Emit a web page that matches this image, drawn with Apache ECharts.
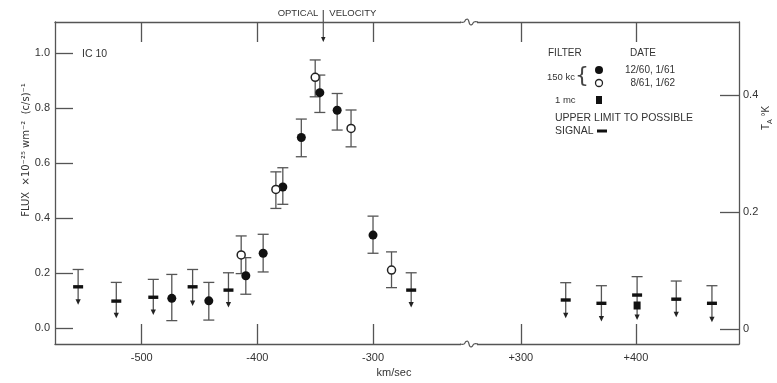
<!DOCTYPE html>
<html><head><meta charset="utf-8">
<script src="https://cdn.jsdelivr.net/npm/echarts@6/dist/echarts.min.js"></script>
<style>html,body{margin:0;padding:0;background:#fff}#c{width:777px;height:383px}</style>
</head><body><div id="c"></div>
<script>
// ---- data ----
// velocity ticks (km/sec)
const leftTicks = [-500, -400, -300];
const rightTicks = [300, 400];
const fluxTicks = [0, 0.2, 0.4, 0.6, 0.8, 1.0];
const tempTicks = [0, 0.2, 0.4];
// 150 kc, 12/60, 1/61 (filled): [velocity, flux, low, high]
const filled = [
  [-474, 0.108, 0.027, 0.195],
  [-442, 0.099, 0.029, 0.166],
  [-410, 0.190, 0.123, 0.256],
  [-395, 0.272, 0.204, 0.341],
  [-378, 0.513, 0.450, 0.583],
  [-362, 0.693, 0.623, 0.760],
  [-346, 0.856, 0.784, 0.920],
  [-331, 0.792, 0.720, 0.853],
  [-300, 0.338, 0.272, 0.407]
];
// 150 kc, 8/61, 1/62 (open): [velocity, flux, low, high]
const openPts = [
  [-414, 0.266, 0.198, 0.335],
  [-384, 0.504, 0.435, 0.568],
  [-350, 0.912, 0.841, 0.975],
  [-319, 0.726, 0.659, 0.793],
  [-284, 0.211, 0.147, 0.277]
];
// 1 mc (square): [velocity, flux]
const oneMc = [[401, 0.082]];
// upper limits to possible signal: [velocity, limit, errTop, arrowBottom]
const upperLimits = [
  [-555, 0.150, 0.213, 0.090],
  [-522, 0.098, 0.166, 0.041],
  [-490, 0.112, 0.177, 0.053],
  [-456, 0.150, 0.213, 0.086],
  [-425, 0.138, 0.201, 0.080],
  [-267, 0.138, 0.201, 0.080],
  [339, 0.102, 0.165, 0.041],
  [370, 0.090, 0.154, 0.029],
  [401, 0.120, 0.187, 0.035],
  [435, 0.105, 0.171, 0.045],
  [466, 0.090, 0.154, 0.027]
];
const opticalVelocity = [-343];

// ---- chart ----
const AX = '#555', TX = '#333', FONT = 'Liberation Sans';
const chart = echarts.init(document.getElementById('c'));
const Y_MIN = -0.058, Y_MAX = 1.113;

function errBar(params, api) {
  const x = api.value(0), lo = api.value(2), hi = api.value(3);
  const a = api.coord([x, hi]), b = api.coord([x, lo]);
  const hw = 5.5, st = {stroke: AX, lineWidth: 1.3};
  return {type: 'group', children: [
    {type: 'line', shape: {x1: a[0], y1: a[1], x2: b[0], y2: b[1]}, style: st},
    {type: 'line', shape: {x1: a[0] - hw, y1: a[1], x2: a[0] + hw, y2: a[1]}, style: st},
    {type: 'line', shape: {x1: b[0] - hw, y1: b[1], x2: b[0] + hw, y2: b[1]}, style: st}
  ]};
}
function upperRender(params, api) {
  const x = api.value(0);
  const pv = api.coord([x, api.value(1)]), pt = api.coord([x, api.value(2)]), pb = api.coord([x, api.value(3)]);
  const hw = 5.5, st = {stroke: AX, lineWidth: 1.3};
  return {type: 'group', children: [
    {type: 'line', shape: {x1: pt[0], y1: pt[1], x2: pb[0], y2: pb[1] - 2}, style: st},
    {type: 'line', shape: {x1: pt[0] - hw, y1: pt[1], x2: pt[0] + hw, y2: pt[1]}, style: st},
    {type: 'rect', shape: {x: pv[0] - 5, y: pv[1] - 1.7, width: 10, height: 3.4}, style: {fill: '#111'}},
    {type: 'polygon', shape: {points: [[pb[0] - 2.6, pb[1] - 4], [pb[0] + 2.6, pb[1] - 4], [pb[0], pb[1] + 1.5]]}, style: {fill: '#222'}}
  ]};
}
function opticalRender(params, api) {
  const x = api.value(0);
  const p = api.coord([x, Y_MAX]);
  return {type: 'group', children: [
    {type: 'line', shape: {x1: p[0], y1: p[1] - 12, x2: p[0], y2: p[1] + 16}, style: {stroke: AX, lineWidth: 1.2}},
    {type: 'polygon', shape: {points: [[p[0] - 2.2, p[1] + 15], [p[0] + 2.2, p[1] + 15], [p[0], p[1] + 20]]}, style: {fill: '#222'}},
    {type: 'text', style: {x: p[0] - 5, y: p[1] - 9, text: 'OPTICAL', align: 'right', verticalAlign: 'middle', fill: TX, font: '9.5px ' + FONT}},
    {type: 'text', style: {x: p[0] + 6, y: p[1] - 9, text: 'VELOCITY', align: 'left', verticalAlign: 'middle', fill: TX, font: '9.5px ' + FONT}}
  ]};
}

function xAxisDef(grid, pos, min, max, ticks, labels, fmt) {
  return {
    gridIndex: grid, type: 'value', position: pos, min: min, max: max,
    axisLine: {show: true, onZero: false, lineStyle: {color: AX, width: 1.3}},
    axisTick: {show: true, inside: true, length: 20, customValues: ticks, lineStyle: {color: AX, width: 1.3}},
    axisLabel: {show: labels, customValues: ticks, formatter: fmt, color: TX, fontSize: 11, fontFamily: FONT, margin: 8},
    splitLine: {show: false}
  };
}

const series = [];
[0, 1].forEach(side => {
  const pick = arr => arr.filter(d => side === 0 ? d[0] < 0 : d[0] > 0);
  const xi = side === 0 ? 0 : 2, yi = side === 0 ? 0 : 1;
  const ax = {xAxisIndex: xi, yAxisIndex: yi};
  series.push(Object.assign({type: 'custom', renderItem: upperRender, data: pick(upperLimits), z: 3, silent: true}, ax));
  series.push(Object.assign({type: 'custom', renderItem: errBar, data: pick(filled), z: 3, silent: true}, ax));
  series.push(Object.assign({type: 'custom', renderItem: errBar, data: pick(openPts), z: 3, silent: true}, ax));
  series.push(Object.assign({type: 'scatter', data: pick(filled).map(d => [d[0], d[1]]), symbol: 'circle', symbolSize: 9,
    itemStyle: {color: '#111', opacity: 1}, z: 5, silent: true}, ax));
  series.push(Object.assign({type: 'scatter', data: pick(openPts).map(d => [d[0], d[1]]), symbol: 'circle', symbolSize: 8,
    itemStyle: {color: '#fff', borderColor: '#222', borderWidth: 1.5, opacity: 1}, z: 6, silent: true}, ax));
  series.push(Object.assign({type: 'scatter', data: pick(oneMc), symbol: 'rect', symbolSize: [7, 8],
    itemStyle: {color: '#111', opacity: 1}, z: 6, silent: true}, ax));
});
series.push({type: 'custom', xAxisIndex: 0, yAxisIndex: 0, renderItem: opticalRender, clip: false,
  data: opticalVelocity.map(v => [v]), z: 4, silent: true});

function squiggle(y) {
  return [
    {type: 'rect', shape: {x: 461, y: y - 4, width: 16, height: 8}, style: {fill: '#fff'}, z: 100},
    {type: 'polyline', shape: {points: [[460, y], [464, y], [466, y - 2.5], [468, y - 2.5], [470, y + 2.5], [472, y + 2.5], [474, y], [478, y]], smooth: 0.4},
      style: {stroke: AX, lineWidth: 1.2, fill: null}, z: 101}
  ];
}
const txt = (x, y, t, opt) => Object.assign({type: 'text', x: x, y: y, style: Object.assign({text: t, fill: TX, font: '10px ' + FONT, verticalAlign: 'middle', align: 'left'}, opt || {})}, {z: 50});

chart.setOption({
  animation: false,
  backgroundColor: '#fff',
  grid: [
    {left: 55, top: 22, width: 414, height: 322},
    {left: 469, top: 22, width: 270, height: 322}
  ],
  xAxis: [
    xAxisDef(0, 'bottom', -575, -217, leftTicks, true, v => String(v)),
    xAxisDef(0, 'top', -575, -217, leftTicks, false),
    xAxisDef(1, 'bottom', 255, 489.5, rightTicks, true, v => '+' + v),
    xAxisDef(1, 'top', 255, 489.5, rightTicks, false)
  ],
  yAxis: [
    {gridIndex: 0, type: 'value', position: 'left', min: Y_MIN, max: Y_MAX,
      axisLine: {show: true, lineStyle: {color: AX, width: 1.3}},
      axisTick: {show: true, inside: true, length: 18, customValues: fluxTicks, lineStyle: {color: AX, width: 1.3}},
      axisLabel: {customValues: fluxTicks, formatter: v => v.toFixed(1), color: TX, fontSize: 11, fontFamily: FONT, margin: 5},
      splitLine: {show: false}},
    {gridIndex: 1, type: 'value', position: 'left', min: Y_MIN, max: Y_MAX, show: false, splitLine: {show: false}},
    {gridIndex: 1, type: 'value', position: 'right', min: -0.0256, max: 0.5248,
      axisLine: {show: true, lineStyle: {color: AX, width: 1.3}},
      axisTick: {show: true, inside: true, length: 19, customValues: tempTicks, lineStyle: {color: AX, width: 1.3}},
      axisLabel: {customValues: tempTicks, formatter: v => v === 0 ? '0' : v.toFixed(1), color: TX, fontSize: 11, fontFamily: FONT, margin: 4},
      splitLine: {show: false}}
  ],
  series: series,
  graphic: [].concat(squiggle(22), squiggle(344), [
    txt(82, 54, 'IC 10', {font: '10.5px ' + FONT}),
    txt(548, 53, 'FILTER'),
    txt(630, 53, 'DATE'),
    txt(547, 77, '150 kc', {font: '9.5px ' + FONT}),
    txt(582, 76, '{', {font: '22px DejaVu Sans', align: 'center', fill: '#444'}),
    {type: 'circle', shape: {cx: 599, cy: 70, r: 4}, style: {fill: '#111'}, z: 50},
    {type: 'circle', shape: {cx: 599, cy: 83, r: 3.5}, style: {fill: '#fff', stroke: '#222', lineWidth: 1.3}, z: 50},
    txt(675, 70, '12/60, 1/61', {align: 'right'}),
    txt(675, 83, '8/61, 1/62', {align: 'right'}),
    txt(555, 100, '1 mc', {font: '9.5px ' + FONT}),
    {type: 'rect', shape: {x: 596, y: 96, width: 6, height: 8}, style: {fill: '#111'}, z: 50},
    txt(555, 118, 'UPPER LIMIT TO POSSIBLE', {font: '10.5px ' + FONT}),
    txt(555, 131, 'SIGNAL', {font: '10.5px ' + FONT}),
    {type: 'rect', shape: {x: 597, y: 129.5, width: 10, height: 3}, style: {fill: '#111'}, z: 50},
    txt(394, 373, 'km/sec', {align: 'center', font: '11px ' + FONT}),
    {type: 'text', x: 26, y: 150, rotation: Math.PI / 2, z: 50,
      style: {text: 'FLUX  \u00d710\u207b\u00b2\u2075 wm\u207b\u00b2  (c/s)\u207b\u00b9', fill: TX, font: '10px DejaVu Sans', align: 'center', verticalAlign: 'middle'}},
    {type: 'text', x: 766, y: 118, rotation: Math.PI / 2, z: 50,
      style: {text: '{t|T}{s|A}{t| \u00b0K}', fill: TX, align: 'center', verticalAlign: 'middle',
        rich: {t: {font: '10px ' + FONT, fill: TX, verticalAlign: 'bottom'}, s: {font: '7px ' + FONT, fill: TX, verticalAlign: 'bottom', padding: [0, 0, -3, 0]}}}}
  ])
});
</script></body></html>
